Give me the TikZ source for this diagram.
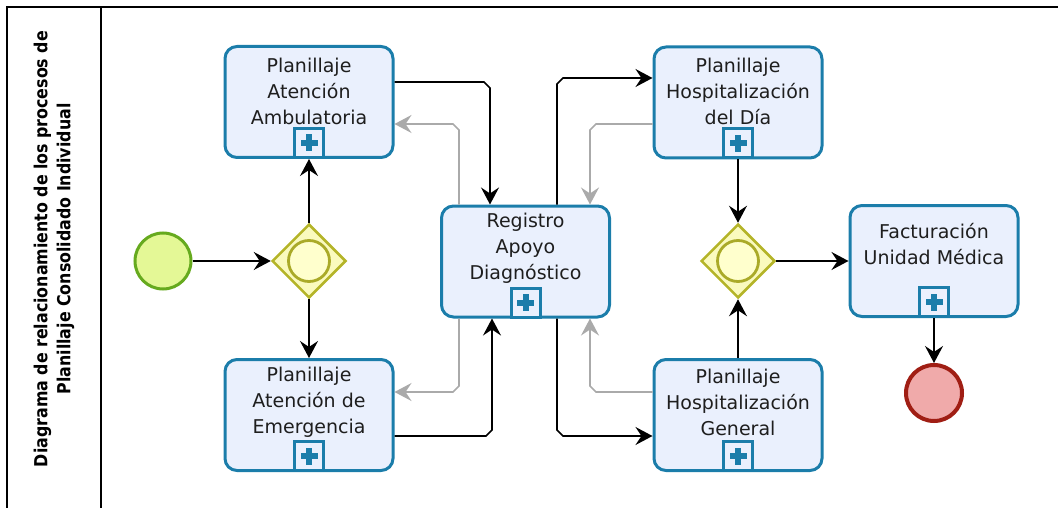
\documentclass[tikz,border=0pt]{standalone}
\usepackage{fontspec}
\setmainfont{DejaVu Sans}
\newfontfamily\titlefont[FakeStretch=0.88]{DejaVu Sans}
\usetikzlibrary{shapes.geometric,arrows.meta,calc}

\definecolor{taskblue}{RGB}{27,125,170}
\definecolor{taskfill}{RGB}{234,240,253}
\definecolor{textgray}{RGB}{30,30,30}
\definecolor{gwline}{RGB}{180,180,40}
\definecolor{gwfill}{RGB}{250,250,190}
\definecolor{gwring}{RGB}{170,170,40}
\definecolor{gwringfill}{RGB}{255,255,205}
\definecolor{startline}{RGB}{102,170,30}
\definecolor{startfill}{RGB}{228,248,150}
\definecolor{endline}{RGB}{160,30,20}
\definecolor{endfill}{RGB}{240,170,170}
\definecolor{flowgray}{RGB}{170,170,170}

\begin{document}
\begin{tikzpicture}[x=1pt,y=-1pt,
  task/.style={rectangle, rounded corners=12pt, draw=taskblue, line width=3pt,
    fill=taskfill, minimum width=168pt, minimum height=111pt, inner sep=0pt},
  tasktext/.style={font=\fontsize{19}{26}\selectfont, text=textgray, align=center, inner sep=0pt},
  marker/.style={rectangle, draw=taskblue, line width=3pt, fill=taskfill,
    minimum size=29pt, inner sep=0pt,
    path picture={
      \fill[taskblue] ($(path picture bounding box.center)+(-8.5pt,-3pt)$) rectangle ++(17pt,6pt);
      \fill[taskblue] ($(path picture bounding box.center)+(-3pt,-8.5pt)$) rectangle ++(6pt,17pt);
    }},
  gateway/.style={diamond, draw=gwline, fill=gwfill, line width=2.5pt,
    minimum width=74pt, minimum height=74pt, inner sep=0pt},
  gwcircle/.style={circle, draw=gwring, fill=gwringfill, line width=2.8pt,
    minimum size=41pt, inner sep=0pt},
  startev/.style={circle, draw=startline, fill=startfill, line width=3pt,
    minimum size=56pt, inner sep=0pt},
  endev/.style={circle, draw=endline, fill=endfill, line width=4pt,
    minimum size=56pt, inner sep=0pt},
  flow/.style={draw=black, line width=1.6pt, -{Stealth[length=17pt,width=18pt,inset=6pt]}},
  back/.style={draw=flowgray, line width=1.6pt, -{Stealth[length=17pt,width=18pt,inset=6pt]}},
  titletext/.style={font=\titlefont\bfseries\fontsize{18}{23}\selectfont, align=center, inner sep=0pt}
]
\useasboundingbox (0,0) rectangle (1058,508);

% pool frame and lane header
\draw[line width=2.2pt] (7,508) -- (7,7) -- (1058,7);
\draw[line width=2.2pt] (101,7) -- (101,508);
\node[titletext, rotate=90] (title) at (54,249)
  {Diagrama de relacionamiento de los procesos de\\Planillaje Consolidado Individual};

% events and gateways
\node[startev] (s) at (163,261) {};
\node[gateway] (g1) at (309,261) {};
\node[gwcircle] (g1c) at (g1) {};
\node[gateway] (g2) at (738,261) {};
\node[gwcircle] (g2c) at (g2) {};
\node[endev] (e) at (934,393) {};

% sub-processes
\node[task] (amb) at (309,102) {};
\node[tasktext] (ambt) at ([yshift=11pt]amb.center) {Planillaje\\Atención\\Ambulatoria};
\node[marker, anchor=south] (ambm) at (amb.south) {};

\node[task] (emg) at (309,415) {};
\node[tasktext] (emgt) at ([yshift=13pt]emg.center) {Planillaje\\Atención de\\Emergencia};
\node[marker, anchor=south] (emgm) at (emg.south) {};

\node[task] (reg) at (525.5,261.5) {};
\node[tasktext] (regt) at ([yshift=13pt]reg.center) {Registro\\Apoyo\\Diagnóstico};
\node[marker, anchor=south] (regm) at (reg.south) {};

\node[task] (dia) at (738,102.5) {};
\node[tasktext] (diat) at ([yshift=11pt]dia.center) {Planillaje\\Hospitalización\\del Día};
\node[marker, anchor=south] (diam) at (dia.south) {};

\node[task] (gen) at (738,415) {};
\node[tasktext] (gent) at ([yshift=13pt]gen.center) {Planillaje\\Hospitalización\\General};
\node[marker, anchor=south] (genm) at (gen.south) {};

\node[task] (fac) at (934,261) {};
\node[tasktext] (fact) at ([yshift=17pt]fac.center) {Facturación\\Unidad Médica};
\node[marker, anchor=south] (facm) at (fac.south) {};

% sequence flows
\draw[flow] (s) -- (g1);
\draw[flow] (g1) -- (ambm);
\draw[flow] (g1) -- (emg);
\draw[flow] ([yshift=20pt]amb.east) -- (484,82) -- (490,88) -- ([xshift=-35.5pt]reg.north);
\draw[flow] ([yshift=-21pt]emg.east) -- (486,436) -- (492,430) -- ([xshift=-33.5pt]reg.south);
\draw[flow] ([xshift=31.5pt]reg.north) -- (557,84) -- (563,78) -- ([yshift=24.5pt]dia.west);
\draw[flow] ([xshift=31.5pt]reg.south) -- (557,430) -- (563,436) -- ([yshift=-21pt]gen.west);
\draw[flow] (diam) -- (g2);
\draw[flow] (gen) -- (g2);
\draw[flow] (g2) -- (fac);
\draw[flow] (facm) -- (e);

% return flows
\draw[back] ([xshift=-66.5pt]reg.north) -- (459,130) -- (453,124) -- ([yshift=-22pt]amb.east);
\draw[back] ([xshift=-66.5pt]reg.south) -- (459,386) -- (453,392) -- ([yshift=23pt]emg.east);
\draw[back] ([yshift=-21.5pt]dia.west) -- (596,124) -- (590,130) -- ([xshift=64.5pt]reg.north);
\draw[back] ([yshift=23pt]gen.west) -- (596,392) -- (590,386) -- ([xshift=64.5pt]reg.south);
\end{tikzpicture}
\end{document}
